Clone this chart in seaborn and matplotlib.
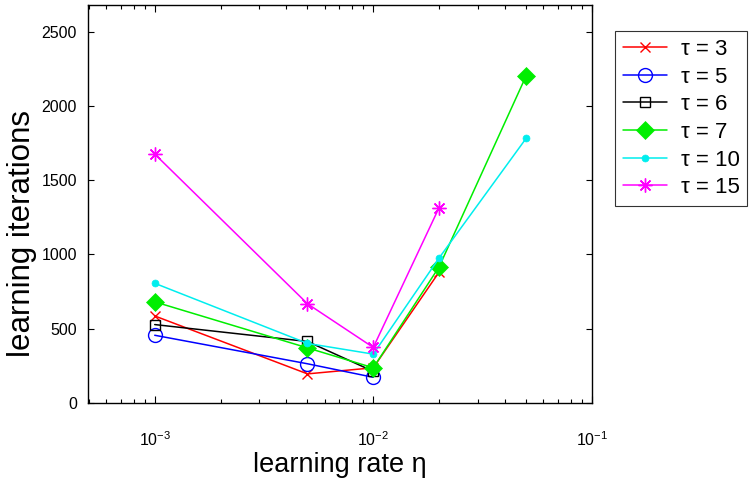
import numpy as np
import pandas as pd
import matplotlib
matplotlib.use('Agg')
import matplotlib.pyplot as plt
import seaborn as sns

# learning rates on the x axis
lr = [1e-3, 5e-3, 1e-2, 2e-2, 5e-2]

# learning iterations per tau (series stop where the curve stops)
tau3 = [585, 195, 236, 880]
tau5 = [455, 263, 172]
tau6 = [527, 413, 212]
tau7 = [680, 370, 236, 915, 2200]
tau10 = [805, 400, 328, 975, 1780]
tau15 = [1675, 667, 373, 1314]

labels = ['τ = 3', 'τ = 5', 'τ = 6', 'τ = 7', 'τ = 10', 'τ = 15']
series = [tau3, tau5, tau6, tau7, tau10, tau15]

sns.set_style('ticks')
plt.rcParams['font.family'] = ['Liberation Sans', 'DejaVu Sans']
plt.rcParams['mathtext.fontset'] = 'custom'
plt.rcParams['mathtext.rm'] = 'Liberation Sans'
plt.rcParams['mathtext.it'] = 'Liberation Sans'
for k in ['text.color', 'axes.labelcolor', 'xtick.color', 'ytick.color', 'axes.edgecolor']:
    plt.rcParams[k] = 'black'

styles = [
    dict(color='#ff0000', marker='x', markersize=7, mew=1.0),
    dict(color='#0000ff', marker='o', markersize=10, mfc='none', mew=1.0),
    dict(color='#000000', marker='s', markersize=7, mfc='none', mew=1.0),
    dict(color='#00ee00', marker='D', markersize=9, mew=0.5),
    dict(color='#00eeee', marker='o', markersize=5, mew=0.5),
    dict(color='#ff00ff', marker=(8, 2, 0), markersize=10, mew=1.0),
]

fig = plt.figure(figsize=(7.52, 4.79), dpi=100)
ax = fig.add_axes([0.117, 0.159, 0.670, 0.831])

for vals, lab, st in zip(series, labels, styles):
    df = pd.DataFrame({'lr': lr[:len(vals)], 'it': vals})
    sns.lineplot(data=df, x='lr', y='it', ax=ax, label=lab, linewidth=1.1,
                 legend=False, mec=st['color'], **st)

ax.set_xscale('log')
ax.set_xlim(4.95e-4, 0.1)
ax.set_ylim(0, 2680)
ax.set_yticks([0, 500, 1000, 1500, 2000, 2500])
ax.tick_params(axis='both', which='both', direction='in', top=True, right=True,
               labelsize=11.5, width=0.8)
ax.tick_params(axis='x', which='major', pad=20, length=5)
ax.tick_params(axis='x', which='minor', length=3)
ax.tick_params(axis='y', which='major', pad=8, length=4)
for s in ax.spines.values():
    s.set_linewidth(1.0)

ax.set_xlabel('learning rate η', fontsize=19.5, labelpad=2)
ax.set_ylabel('learning iterations', fontsize=22.5, va='center')
ax.yaxis.set_label_coords(-0.131, 0.425)

handles, labs = ax.get_legend_handles_labels()
leg = fig.legend(handles, labs, loc='upper left', bbox_to_anchor=(0.818, 0.935),
                 fontsize=16, frameon=True, fancybox=False, edgecolor='black',
                 handlelength=2.0, labelspacing=0.3, borderpad=0.35,
                 handletextpad=0.6, borderaxespad=0)
leg.get_frame().set_linewidth(0.8)

fig.savefig('out.png', dpi=100)
